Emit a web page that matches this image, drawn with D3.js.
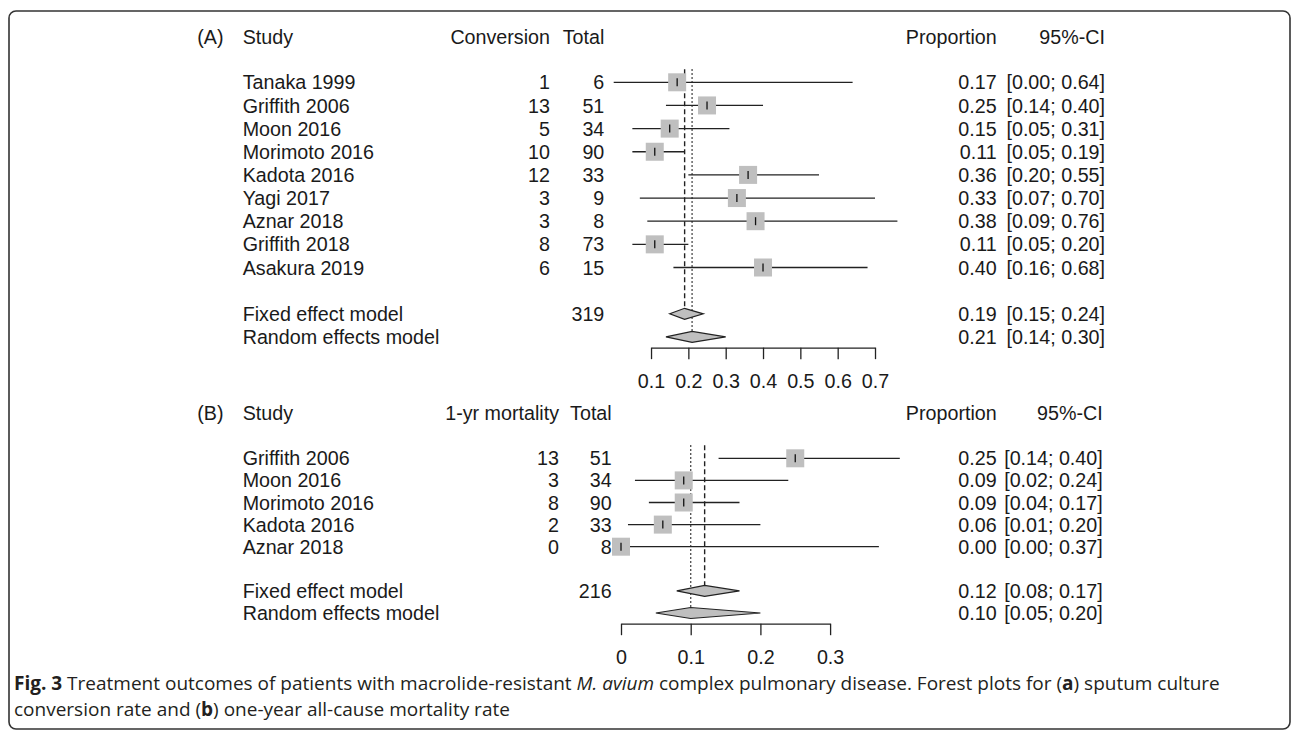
<!DOCTYPE html>
<html>
<head>
<meta charset="utf-8">
<script src="https://cdn.jsdelivr.net/npm/d3@7"></script>
<style>
body { margin: 0; background: #fff; }
.chart text { font-family: "Liberation Sans", Arial, sans-serif; fill: #1a1a1a; }
.caption text { font-family: "Open Sans", sans-serif; fill: #231f20; }
</style>
</head>
<body>
<svg class="chart"></svg>
<script>

var width = 1292,
    height = 734;

// (A) sputum culture conversion
var studiesA = ["Tanaka 1999", "Griffith 2006", "Moon 2016", "Morimoto 2016", "Kadota 2016",
                "Yagi 2017", "Aznar 2018", "Griffith 2018", "Asakura 2019"];
var eventsA = [1, 13, 5, 10, 12, 3, 3, 8, 6];
var totalsA = [6, 51, 34, 90, 33, 9, 8, 73, 15];
var propA  = [0.17, 0.25, 0.15, 0.11, 0.36, 0.33, 0.38, 0.11, 0.40];
var lowerA = [0.00, 0.14, 0.05, 0.05, 0.20, 0.07, 0.09, 0.05, 0.16];
var upperA = [0.64, 0.40, 0.31, 0.19, 0.55, 0.70, 0.76, 0.20, 0.68];
var pooledTotalA = 319;
var pooledPropA  = [0.19, 0.21];   // fixed, random
var pooledLowerA = [0.15, 0.14];
var pooledUpperA = [0.24, 0.30];
var ticksA = [0.1, 0.2, 0.3, 0.4, 0.5, 0.6, 0.7];
var tickLabelsA = ["0.1", "0.2", "0.3", "0.4", "0.5", "0.6", "0.7"];

// (B) one-year mortality
var studiesB = ["Griffith 2006", "Moon 2016", "Morimoto 2016", "Kadota 2016", "Aznar 2018"];
var eventsB = [13, 3, 8, 2, 0];
var totalsB = [51, 34, 90, 33, 8];
var propB  = [0.25, 0.09, 0.09, 0.06, 0.00];
var lowerB = [0.14, 0.02, 0.04, 0.01, 0.00];
var upperB = [0.40, 0.24, 0.17, 0.20, 0.37];
var pooledTotalB = 216;
var pooledPropB  = [0.12, 0.10];
var pooledLowerB = [0.08, 0.05];
var pooledUpperB = [0.17, 0.20];
var ticksB = [0, 0.1, 0.2, 0.3];
var tickLabelsB = ["0", "0.1", "0.2", "0.3"];

var pooledNames = ["Fixed effect model", "Random effects model"];

var chart = d3.select(".chart")
    .attr("width", width)
    .attr("height", height);

// frame round the figure
chart.append("rect")
    .attr("x", 9).attr("y", 11)
    .attr("width", 1281).attr("height", 718)
    .attr("rx", 7)
    .attr("fill", "none")
    .attr("stroke", "#333")
    .attr("stroke-width", 1.6);

var fs = 19.7;

function drawPanel(p) {
    var x = d3.scaleLinear().domain([0, 0.1]).range([p.x0, p.x0 + p.unit]);
    var g = chart.append("g");
    var n = p.studies.length;
    var rowY = function(i) { return p.first + i * p.step; };
    var fixedY = rowY(n + 1),
        randomY = rowY(n + 2);

    function txt(xx, yy, s, anchor) {
        return g.append("text")
            .attr("x", xx).attr("y", yy)
            .attr("dy", "0.36em")
            .attr("text-anchor", anchor || "start")
            .style("font-size", fs + "px")
            .text(s);
    }

    // header
    txt(p.labelX, p.header, p.label);
    txt(242.7, p.header, "Study");
    txt(p.evX, p.header, p.evHead, "end");
    txt(p.totX, p.header, "Total", "end");
    txt(996.7, p.header, "Proportion", "end");
    txt(p.ciX, p.header, "95%-CI", "end");

    // reference lines (fixed dashed, random dotted)
    var top = rowY(0) - 13;
    g.append("line")
        .attr("x1", x(p.pooledProp[0])).attr("x2", x(p.pooledProp[0]))
        .attr("y1", top).attr("y2", fixedY - 5.5)
        .attr("stroke", "#222").attr("stroke-width", 1.4)
        .attr("stroke-dasharray", "5,3");
    g.append("line")
        .attr("x1", x(p.pooledProp[1])).attr("x2", x(p.pooledProp[1]))
        .attr("y1", top).attr("y2", randomY)
        .attr("stroke", "#222").attr("stroke-width", 1.4)
        .attr("stroke-dasharray", "1.5,2.5");

    var rows = d3.range(n).map(function(i) {
        return {name: p.studies[i], ev: p.events[i], tot: p.totals[i],
                est: p.prop[i], lo: p.lower[i], hi: p.upper[i]};
    });

    var row = g.selectAll(".row")
        .data(rows)
      .enter().append("g")
        .attr("class", "row");

    row.append("text")
        .attr("x", 242.7)
        .attr("y", function(d, i) { return rowY(i); })
        .attr("dy", "0.36em")
        .style("font-size", fs + "px")
        .text(function(d) { return d.name; });
    row.append("text")
        .attr("x", p.evX)
        .attr("y", function(d, i) { return rowY(i); })
        .attr("dy", "0.36em")
        .attr("text-anchor", "end")
        .style("font-size", fs + "px")
        .text(function(d) { return d.ev; });
    row.append("text")
        .attr("x", p.totX)
        .attr("y", function(d, i) { return rowY(i); })
        .attr("dy", "0.36em")
        .attr("text-anchor", "end")
        .style("font-size", fs + "px")
        .text(function(d) { return d.tot; });

    row.append("line")
        .attr("x1", function(d) { return x(d.lo); })
        .attr("x2", function(d) { return x(d.hi); })
        .attr("y1", function(d, i) { return rowY(i); })
        .attr("y2", function(d, i) { return rowY(i); })
        .attr("stroke", "#222").attr("stroke-width", 1.3);
    row.append("rect")
        .attr("x", function(d) { return x(d.est) - 9; })
        .attr("y", function(d, i) { return rowY(i) - 9; })
        .attr("width", 18).attr("height", 18)
        .attr("fill", "#bfbfbf");
    row.append("line")
        .attr("x1", function(d) { return x(d.est); })
        .attr("x2", function(d) { return x(d.est); })
        .attr("y1", function(d, i) { return rowY(i) - 4; })
        .attr("y2", function(d, i) { return rowY(i) + 4; })
        .attr("stroke", "#111").attr("stroke-width", 1.3);

    row.append("text")
        .attr("x", 996.7)
        .attr("y", function(d, i) { return rowY(i); })
        .attr("dy", "0.36em")
        .attr("text-anchor", "end")
        .style("font-size", fs + "px")
        .text(function(d) { return d.est.toFixed(2); });
    row.append("text")
        .attr("x", p.ciX)
        .attr("y", function(d, i) { return rowY(i); })
        .attr("dy", "0.36em")
        .attr("text-anchor", "end")
        .style("font-size", fs + "px")
        .text(function(d) { return "[" + d.lo.toFixed(2) + "; " + d.hi.toFixed(2) + "]"; });

    // pooled rows with diamonds
    [fixedY, randomY].forEach(function(yy, k) {
        txt(242.7, yy, pooledNames[k]);
        if (k == 0) txt(p.totX, yy, p.pooledTotal, "end");
        var e = p.pooledProp[k], lo = p.pooledLower[k], hi = p.pooledUpper[k];
        g.append("path")
            .attr("d", "M" + x(lo) + "," + yy + "L" + x(e) + "," + (yy - 5.5) +
                       "L" + x(hi) + "," + yy + "L" + x(e) + "," + (yy + 5.5) + "Z")
            .attr("fill", "#bfbfbf")
            .attr("stroke", "#222").attr("stroke-width", 1.2);
        txt(996.7, yy, e.toFixed(2), "end");
        txt(p.ciX, yy, "[" + lo.toFixed(2) + "; " + hi.toFixed(2) + "]", "end");
    });

    // x axis
    var t0 = p.ticks[0], t1 = p.ticks[p.ticks.length - 1];
    var xa = x.copy().domain([t0, t1]).range([x(t0), x(t1)]);
    var axis = d3.axisBottom(xa)
        .tickValues(p.ticks)
        .tickSize(11.5)
        .tickSizeOuter(0)
        .tickPadding(15)
        .tickFormat(function(d, i) { return p.tickLabels[i]; });
    var ag = g.append("g")
        .attr("transform", "translate(0," + (randomY + 10.7) + ")")
        .call(axis);
    ag.selectAll("path, line").attr("stroke", "#222").attr("stroke-width", 1.3);
    ag.selectAll("text")
        .style("font-size", fs + "px")
        .style("font-family", '"Liberation Sans", Arial, sans-serif')
        .attr("fill", "#1a1a1a");
}

drawPanel({
    label: "(A)", labelX: 197.3, header: 36.7, first: 82.3, step: 23.15,
    evHead: "Conversion", evX: 550, totX: 604.3, ciX: 1105,
    x0: 613.7, unit: 37.33,
    studies: studiesA, events: eventsA, totals: totalsA,
    prop: propA, lower: lowerA, upper: upperA,
    pooledTotal: pooledTotalA, pooledProp: pooledPropA,
    pooledLower: pooledLowerA, pooledUpper: pooledUpperA,
    ticks: ticksA, tickLabels: tickLabelsA
});

drawPanel({
    label: "(B)", labelX: 197.3, header: 413.3, first: 458.3, step: 22.1,
    evHead: "1-yr mortality", evX: 559, totX: 611.7, ciX: 1102.7,
    x0: 621, unit: 69.7,
    studies: studiesB, events: eventsB, totals: totalsB,
    prop: propB, lower: lowerB, upper: upperB,
    pooledTotal: pooledTotalB, pooledProp: pooledPropB,
    pooledLower: pooledLowerB, pooledUpper: pooledUpperB,
    ticks: ticksB, tickLabels: tickLabelsB
});

// figure caption
var cap = chart.append("g").attr("class", "caption");
var l1 = cap.append("text").attr("x", 14).attr("y", 690).style("font-size", "19px");
l1.append("tspan").style("font-weight", "bold").text("Fig. 3");
l1.append("tspan").text(" Treatment outcomes of patients with macrolide-resistant ");
l1.append("tspan").style("font-style", "italic").text("M. avium");
l1.append("tspan").text(" complex pulmonary disease. Forest plots for (");
l1.append("tspan").style("font-weight", "bold").text("a");
l1.append("tspan").text(") sputum culture");
var l2 = cap.append("text").attr("x", 14).attr("y", 716).style("font-size", "19px");
l2.append("tspan").text("conversion rate and (");
l2.append("tspan").style("font-weight", "bold").text("b");
l2.append("tspan").text(") one-year all-cause mortality rate");

</script>
</body>
</html>
